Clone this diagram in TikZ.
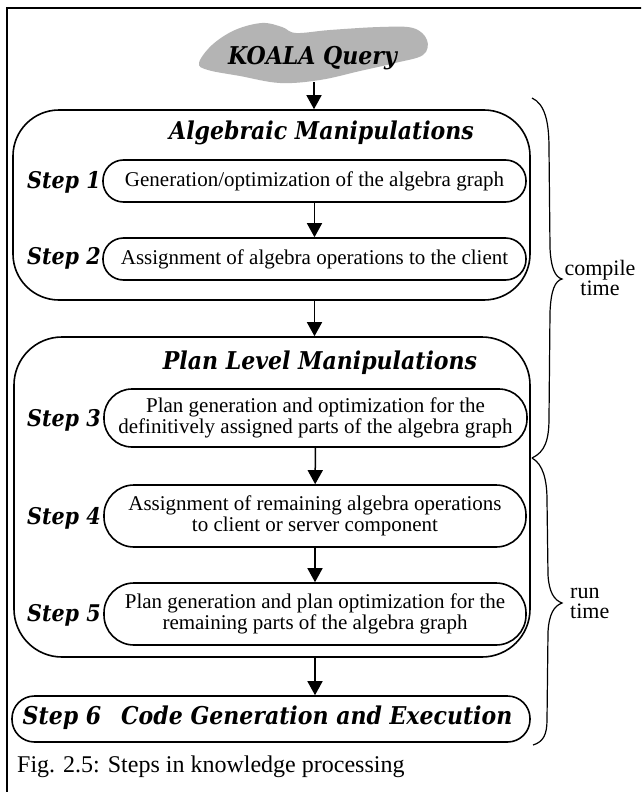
\documentclass[tikz,border=0pt]{standalone}
\usepackage{fontspec}
\setmainfont{Liberation Serif}
\newfontfamily\headfont{DejaVu Serif Condensed}
\usetikzlibrary{arrows.meta}
\definecolor{cloudgray}{RGB}{180,180,180}
\begin{document}
\begin{tikzpicture}[x=1pt,y=-1pt,
  framelines/.style={line width=1.8pt},
  groupbox/.style={draw, line width=1.6pt, rounded corners=46pt, inner sep=0pt},
  stepbox/.style={draw, line width=1.6pt, fill=white, inner sep=0pt, align=center,
    font=\fontsize{21}{21}\selectfont},
  steplabel/.style={anchor=east, inner sep=0pt,
    font=\headfont\bfseries\itshape\fontsize{23}{23}\selectfont},
  heading/.style={inner sep=0pt,
    font=\headfont\bfseries\itshape\fontsize{24.5}{24}\selectfont},
  arr/.style={line width=1.5pt, -{Triangle[length=14pt,width=15pt]}},
  bracepath/.style={line width=1.2pt},
  sidelabel/.style={inner sep=0pt, font=\fontsize{22}{20}\selectfont}
]
\clip (0,0) rectangle (641,792);
\fill[white] (0,0) rectangle (641,792);

% open frame: left and top edges
\draw[framelines] (7,800) -- (7,8) -- (650,8);

% query cloud
\fill[cloudgray] plot[smooth cycle, tension=0.6] coordinates {
  (199,63) (212,45) (235,30) (262,23) (282,27) (296,33) (330,30) (380,27)
  (413,28) (427,40) (423,55) (395,63) (360,71) (320,80) (280,83) (240,76) (208,70)};
\node[heading] (query) at (312.5,58) {KOALA Query};
\coordinate (qbottom) at (314,82);

% group frames
\node[groupbox, minimum width=517pt, minimum height=190pt] (grpA) at (271.5,205) {};
\node[groupbox, rounded corners=48pt, minimum width=516pt, minimum height=320pt] (grpB) at (272,497) {};

\node[heading] (titleA) at (321.5,133) {Algebraic Manipulations};
\node[heading] (titleB) at (320,363) {Plan Level Manipulations};

% steps
\node[stepbox, minimum width=423pt, minimum height=42pt, rounded corners=20.5pt] (s1) at (314.5,181)
  {Generation/optimization of the algebra graph};
\node[stepbox, minimum width=423pt, minimum height=42pt, rounded corners=20.5pt] (s2) at (314.5,259)
  {Assignment of algebra operations to the client};
\node[stepbox, minimum width=423pt, minimum height=58pt, rounded corners=28pt] (s3) at (315.5,418)
  {Plan generation and optimization for the\\definitively assigned parts of the algebra graph};
\node[stepbox, minimum width=422pt, minimum height=62pt, rounded corners=30pt] (s4) at (315,516)
  {Assignment of remaining algebra operations\\to client or server component};
\node[stepbox, minimum width=422pt, minimum height=62pt, rounded corners=30pt] (s5) at (315,614)
  {Plan generation and plan optimization for the\\remaining parts of the algebra graph};
\node[stepbox, minimum width=518pt, minimum height=46pt, rounded corners=22.5pt] (s6) at (271,719) {};
\node[heading] (s6text) at (267.5,718) {Step 6\hspace{20pt}Code Generation and Execution};

\node[steplabel] (l1) at (101,182) {Step 1};
\node[steplabel] (l2) at (101,258) {Step 2};
\node[steplabel] (l3) at (101,420) {Step 3};
\node[steplabel] (l4) at (101,518) {Step 4};
\node[steplabel] (l5) at (101,615) {Step 5};

% connectors
\draw[arr] (qbottom) -- (qbottom |- grpA.north);
\draw[arr] (s1) -- (s2);
\draw[arr] (s2.south |- grpA.south) -- (s2.south |- grpB.north);
\draw[arr] (s3) -- (s4);
\draw[arr] (s4) -- (s5);
\draw[arr] (s5.south |- grpB.south) -- (s5.south |- s6.north);

% braces
\draw[bracepath] (532,98) .. controls (545,104) and (549,122) .. (549,148)
  -- (550,248) .. controls (551,268) and (555,277) .. (562,279)
  .. controls (555,281) and (551,290) .. (550,312)
  -- (549,418) .. controls (549,440) and (545,452) .. (532,458);
\draw[bracepath] (532,458) .. controls (543,464) and (547,480) .. (547,500)
  -- (548,575) .. controls (549,592) and (554,600) .. (562,603)
  .. controls (554,606) and (549,614) .. (548,632)
  -- (547,720) .. controls (547,735) and (543,742) .. (533,745);

\node[sidelabel, align=center] (ctime) at (600,278) {compile\\time};
\node[sidelabel, align=left, anchor=west] (rtime) at (570,603) {run\\time};

\node[anchor=west, inner sep=0pt, font=\fontsize{24}{24}\selectfont] (caption) at (17,767)
  {Fig. 2.5: Steps in knowledge processing};
\end{tikzpicture}
\end{document}
